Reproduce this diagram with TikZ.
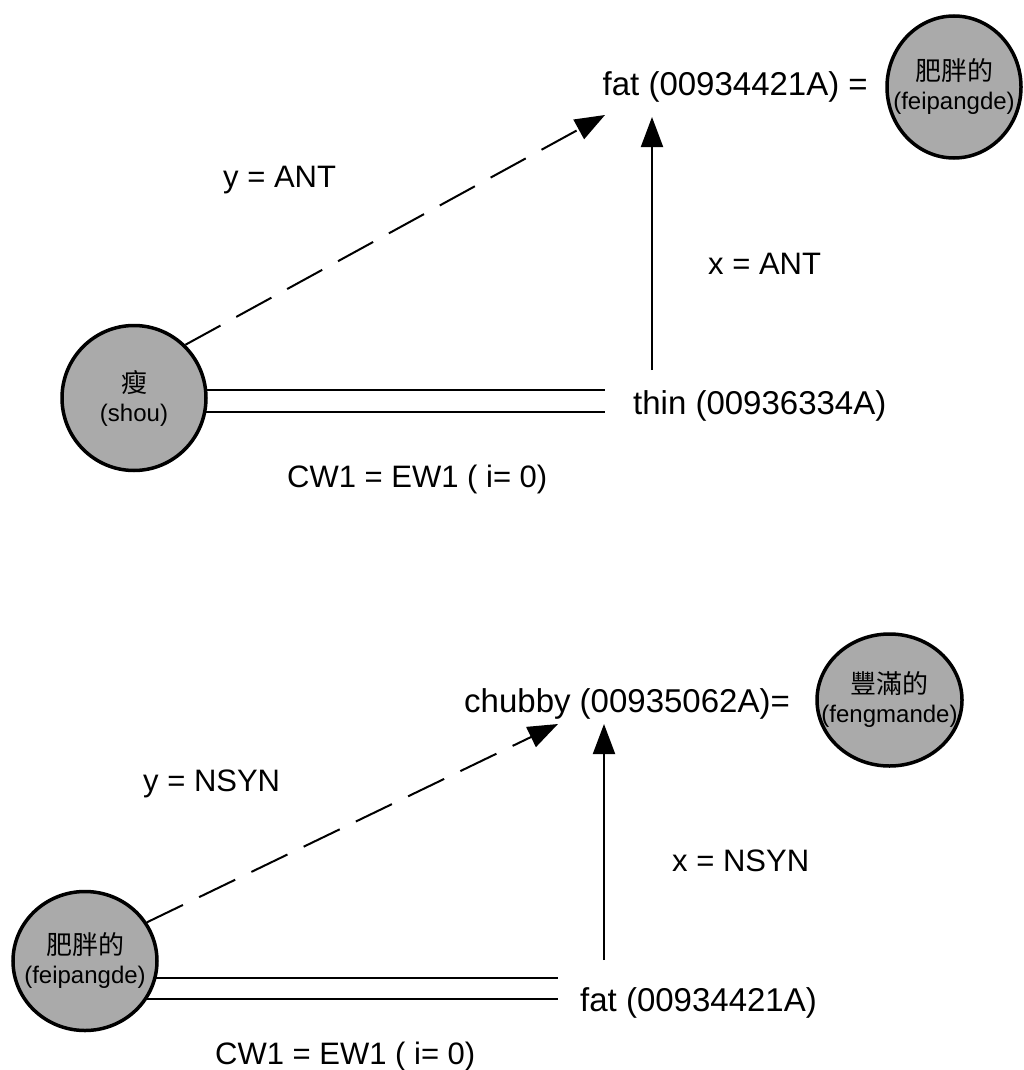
\documentclass[tikz,border=0pt]{standalone}
\usepackage{fontspec}
\setmainfont{Liberation Sans}
\newfontfamily\cjk{Noto Sans CJK TC}
\usetikzlibrary{shapes.geometric,arrows.meta,backgrounds}
\definecolor{circfill}{RGB}{170,170,170}
\newcommand{\wordtext}[2]{\makebox[0pt]{\cjk\fontsize{26}{29}\selectfont #1}\\\makebox[0pt]{#2}}
\begin{document}
\begin{tikzpicture}[x=1pt,y=-1pt,
  wordcirc/.style={ellipse,draw=black,line width=3.5pt,fill=circfill,inner sep=0pt,align=center,font=\fontsize{24}{29}\selectfont},
  bigtext/.style={inner sep=0pt,font=\fontsize{33}{40}\selectfont},
  labeltext/.style={inner sep=0pt,font=\fontsize{31}{37}\selectfont},
  conn/.style={line width=2pt},
  arr/.style={conn,-{Triangle[length=30pt,width=22pt]}},
  dasharr/.style={arr,dash pattern=on 40pt off 18pt},
]
\useasboundingbox (0,0) rectangle (1023,1070);

% ---- top part ----
\node[wordcirc,minimum width=144pt,minimum height=145pt] (shou) at (134,398)
  {\wordtext{瘦}{(shou)}};
\node[wordcirc,minimum width=134pt,minimum height=142pt] (feiA) at (954,87)
  {\wordtext{肥胖的}{(feipangde)}};
\node[bigtext,anchor=base east] (fatA) at (868,96) {fat (00934421A) =};
\node[bigtext,anchor=base west] (thin) at (633,414) {thin (00936334A)};
\node[labeltext,anchor=base west] (yA) at (223,187) {y = ANT};
\node[labeltext,anchor=base west] (xA) at (708,274) {x = ANT};
\node[labeltext,anchor=base west] (cwA) at (287,487) {CW1 = EW1 ( i= 0)};

\coordinate (tipA) at (605,115);
\coordinate (tipB) at (652,117);
\coordinate (baseB) at (652,370);
\coordinate (endA) at (605,390);
\coordinate (endA2) at (605,412);
\draw[dasharr] (shou.46) -- (tipA);
\draw[arr] (baseB) -- (tipB);
\begin{scope}[on background layer]
  \draw[conn] (shou.center |- endA) -- (endA);
  \draw[conn] (shou.center |- endA2) -- (endA2);
\end{scope}

% ---- bottom part ----
\node[wordcirc,minimum width=145pt,minimum height=132pt] (feng) at (889.5,700)
  {\wordtext{豐滿的}{(fengmande)}};
\node[wordcirc,minimum width=144pt,minimum height=139pt] (feiB) at (85,961)
  {\wordtext{肥胖的}{(feipangde)}};
\node[bigtext,anchor=base west] (chubby) at (464,712) {chubby (00935062A)=};
\node[bigtext,anchor=base west] (fatB) at (580,1011) {fat (00934421A)};
\node[labeltext,anchor=base west] (yB) at (143,791) {y = NSYN};
\node[labeltext,anchor=base west] (xB) at (672,871) {x = NSYN};
\node[labeltext,anchor=base west] (cwB) at (215,1064) {CW1 = EW1 ( i= 0)};

\coordinate (tipC) at (558,724);
\coordinate (tipD) at (604,724);
\coordinate (baseD) at (604,960);
\coordinate (endB) at (558,978);
\coordinate (endB2) at (558,999);
\draw[dasharr] (feiB.32) -- (tipC);
\draw[arr] (baseD) -- (tipD);
\begin{scope}[on background layer]
  \draw[conn] (feiB.center |- endB) -- (endB);
  \draw[conn] (feiB.center |- endB2) -- (endB2);
\end{scope}
\end{tikzpicture}
\end{document}
